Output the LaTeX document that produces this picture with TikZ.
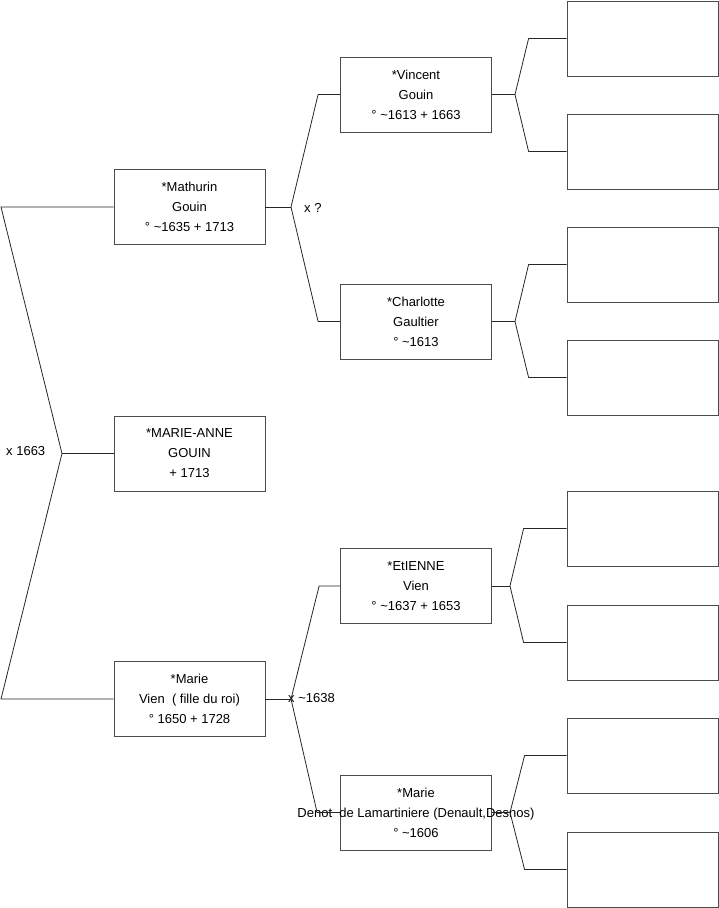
\documentclass[tikz,border=0pt]{standalone}
\usepackage{fontspec}
\setmainfont{Liberation Sans}
\usetikzlibrary{positioning}

\begin{document}
\begin{tikzpicture}[x=1pt, y=-1pt,
  person/.style={rectangle, draw=black!70, line width=0.8pt, fill=white,
    minimum height=75pt, minimum width=151pt, inner sep=0pt, align=center,
    font=\fontsize{13}{20}\selectfont},
  link/.style={line width=0.8pt, color=black!85},
  wedlock/.style={font=\fontsize{13}{14}\selectfont, anchor=west, inner sep=0pt},
]
  \useasboundingbox (0,0) rectangle (719,908);

  % generation 1
  \node[person] (mat) at (189.5,207) {*Mathurin\\Gouin\\\textdegree\ \textasciitilde1635 + 1713};
  \node[person] (ma)  at (189.5,453.5) {*MARIE-ANNE\\GOUIN\\+ 1713};
  \node[person] (vie) at (189.5,699)   {*Marie\\Vien \ ( fille du roi)\\\textdegree\ 1650 + 1728};

  % generation 2
  \node[person] (vin) at (416,94.5)  {*Vincent\\Gouin\\\textdegree\ \textasciitilde1613 + 1663};
  \node[person] (cha) at (416,321.5) {*Charlotte\\Gaultier\\\textdegree\ \textasciitilde1613};
  \node[person] (eti) at (416,586)   {*EtIENNE\\Vien\\\textdegree\ \textasciitilde1637 + 1653};
  \node[person] (den) at (416,812.5) {*Marie\\\makebox[0pt]{Denot \ de Lamartiniere (Denault,Desnos)}\\\textdegree\ \textasciitilde1606};

  % generation 3 (empty)
  \node[person] (p1) at (642.5,38.5)  {};
  \node[person] (p2) at (642.5,151.5) {};
  \node[person] (p3) at (642.5,264.5) {};
  \node[person] (p4) at (642.5,377.5) {};
  \node[person] (p5) at (642.5,528.5) {};
  \node[person] (p6) at (642.5,642.5) {};
  \node[person] (p7) at (642.5,755.5) {};
  \node[person] (p8) at (642.5,869.5) {};

  % fork points
  \coordinate (f0) at (62,453.5);
  \coordinate (f1) at (291,207);
  \coordinate (f2) at (291,699);
  \coordinate (f3) at (515,94.5);
  \coordinate (f4) at (515,321.5);
  \coordinate (f5) at (510,586);
  \coordinate (f6) at (510,812.5);

  % marriages
  \node[wedlock] (m0) at (6,451.5)   {x 1663};
  \node[wedlock] (m1) at (304,207.5) {x ?};
  \node[wedlock] (m2) at (288,698.5) {x \textasciitilde1638};

  \draw[link] (mat.west) -- (1,207) -- (f0) -- (1,699) -- (vie.west);
  \draw[link] (f0) -- (ma.west);

  \draw[link] (mat.east) -- (f1);
  \draw[link] (f1) -- ([xshift=-22pt]vin.west) -- (vin.west);
  \draw[link] (f1) -- ([xshift=-22pt]cha.west) -- (cha.west);

  \draw[link] (vie.east) -- (f2);
  \draw[link] (f2) -- ([xshift=-21pt]eti.west) -- (eti.west);
  \draw[link] (f2) -- ([xshift=-23pt]den.west) -- (den.west);

  \draw[link] (vin.east) -- (f3);
  \draw[link] (f3) -- ([xshift=-38pt]p1.west) -- (p1.west);
  \draw[link] (f3) -- ([xshift=-38pt]p2.west) -- (p2.west);

  \draw[link] (cha.east) -- (f4);
  \draw[link] (f4) -- ([xshift=-38pt]p3.west) -- (p3.west);
  \draw[link] (f4) -- ([xshift=-38pt]p4.west) -- (p4.west);

  \draw[link] (eti.east) -- (f5);
  \draw[link] (f5) -- ([xshift=-43pt]p5.west) -- (p5.west);
  \draw[link] (f5) -- ([xshift=-43pt]p6.west) -- (p6.west);

  \draw[link] (den.east) -- (f6);
  \draw[link] (f6) -- ([xshift=-42pt]p7.west) -- (p7.west);
  \draw[link] (f6) -- ([xshift=-42pt]p8.west) -- (p8.west);
\end{tikzpicture}
\end{document}
